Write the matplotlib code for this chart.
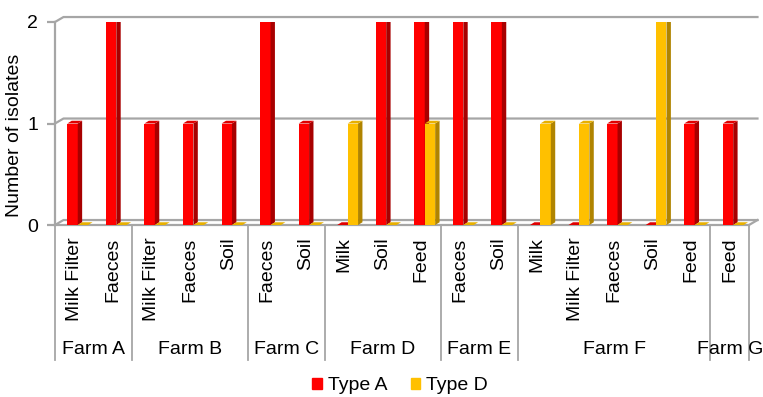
import matplotlib.pyplot as plt
from matplotlib.patches import Polygon, Patch
from matplotlib.transforms import blended_transform_factory
import numpy as np

plt.rcParams['font.family'] = ['Liberation Sans', 'DejaVu Sans']

# Sample source per farm, and isolate counts per type
farms = ["Farm A", "Farm B", "Farm C", "Farm D", "Farm E", "Farm F", "Farm G"]
farm_samples = [
    ["Milk Filter", "Faeces"],
    ["Milk Filter", "Faeces", "Soil"],
    ["Faeces", "Soil"],
    ["Milk", "Soil", "Feed"],
    ["Faeces", "Soil"],
    ["Milk", "Milk Filter", "Faeces", "Soil", "Feed"],
    ["Feed"],
]
type_a = [1, 2, 1, 1, 1, 2, 1, 0, 2, 2, 2, 2, 0, 0, 1, 0, 1, 1]
type_d = [0, 0, 0, 0, 0, 0, 0, 1, 0, 1, 0, 0, 1, 1, 0, 2, 0, 0]
series_names = ["Type A", "Type D"]

samples = [s for group in farm_samples for s in group]
n = len(samples)
x = np.arange(n)

# face colours: front, side, top
red = ("#ff0000", "#a80000", "#e00000")
gold = ("#ffc000", "#b08400", "#e8b000")
grid_col = "#a6a6a6"

W, H = 763, 397
fig = plt.figure(figsize=(W / 100, H / 100), dpi=100)
ax = fig.add_axes([55 / W, (H - 225) / H, 694 / W, 203 / H])
ax.set_xlim(-0.5, n - 0.5)
ax.set_ylim(0, 2)

# depth of the back wall and of each bar (data units)
wall_dx, wall_dy = 0.22, 0.049
bar_dx, bar_dy = 0.114, 0.027
bar_w = 0.27

# back wall gridlines, running diagonally from the front axis
x0, x1 = -0.5, n - 0.5
for v in [0, 1, 2]:
    ax.plot([x0, x0 + wall_dx, x1 + wall_dx], [v, v + wall_dy, v + wall_dy],
            color=grid_col, lw=1.6, zorder=1, clip_on=False)
ax.plot([x1, x1 + wall_dx], [0, wall_dy], color=grid_col, lw=1.6,
        zorder=1, clip_on=False)


def bar3d(left, vals, cols, z):
    ax.bar(left, vals, width=bar_w, align='edge', color=cols[0],
           linewidth=0, zorder=z)
    for xl, v in zip(left, vals):
        side = [(xl + bar_w, 0), (xl + bar_w + bar_dx, bar_dy),
                (xl + bar_w + bar_dx, v + bar_dy), (xl + bar_w, v)]
        top = [(xl, v), (xl + bar_dx, v + bar_dy),
               (xl + bar_w + bar_dx, v + bar_dy), (xl + bar_w, v)]
        ax.add_patch(Polygon(side, closed=True, fc=cols[1], lw=0, zorder=z))
        ax.add_patch(Polygon(top, closed=True, fc=cols[2], lw=0, zorder=z))


bar3d(x - 0.18, type_a, red, 3)
bar3d(x + 0.09, type_d, gold, 4)

# axes styling
for s in ["top", "right"]:
    ax.spines[s].set_visible(False)
for s in ["left", "bottom"]:
    ax.spines[s].set_color(grid_col)
    ax.spines[s].set_linewidth(1.6)
ax.set_yticks([0, 1, 2])
ax.tick_params(axis='y', length=6, width=1.6, color=grid_col, pad=6,
               labelsize=14)
ax.set_xticks(x)
ax.set_xticklabels(samples, rotation=90, va='top', ha='center', fontsize=14)
ax.tick_params(axis='x', length=0, pad=9)

# farm groups below the sample labels
trans = blended_transform_factory(ax.transData, ax.transAxes)
bounds = np.cumsum([0] + [len(g) for g in farm_samples]) - 0.5
for b in bounds:
    ax.plot([b, b], [0, -0.665], color=grid_col, lw=1.3, transform=trans,
            clip_on=False)
for farm, lo, hi in zip(farms, bounds[:-1], bounds[1:]):
    ax.text((lo + hi) / 2, -0.611, farm, transform=trans, ha='center',
            va='center', fontsize=14)

fig.text(15 / W, 1 - 135 / H, "Number of isolates", rotation=90,
         ha='center', va='center', fontsize=14)

handles = [Patch(color=red[0]), Patch(color=gold[0])]
fig.legend(handles, series_names, loc='center', ncol=2, frameon=False,
           bbox_to_anchor=(400 / W, 1 - 386 / H), fontsize=14,
           handlelength=0.5, handleheight=0.5, handletextpad=0.3,
           columnspacing=1.2, borderpad=0)

fig.savefig("out.png", dpi=100)
